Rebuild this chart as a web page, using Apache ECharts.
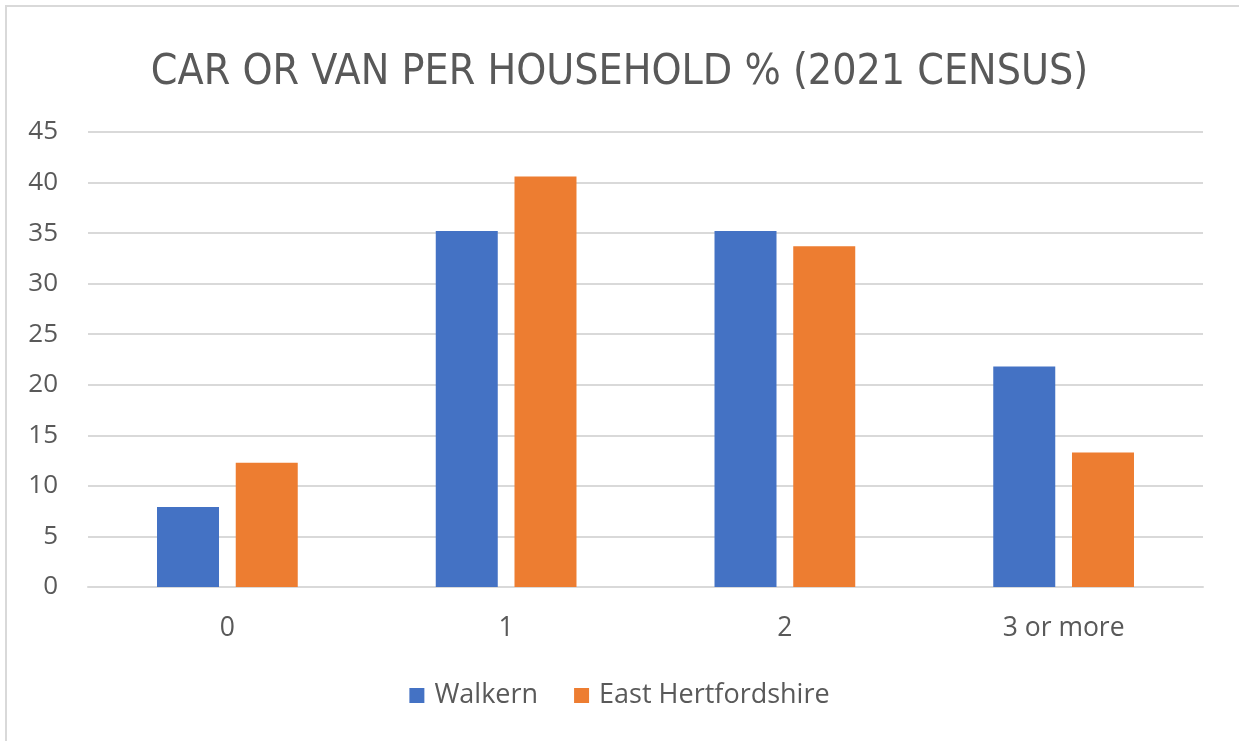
<!DOCTYPE html>
<html>
<head>
<meta charset="utf-8">
<script src="https://cdn.jsdelivr.net/npm/echarts@6/dist/echarts.min.js"></script>
<style>
html,body{margin:0;padding:0;background:#fff;}
#chart{width:1239px;height:741px;}
</style>
</head>
<body>
<div id="chart"></div>
<script>
const titleText = 'CAR OR VAN PER HOUSEHOLD % (2021 CENSUS)';
const categories = ['0', '1', '2', '3 or more'];
const seriesNames = ['Walkern', 'East Hertfordshire'];
const walkern = [7.9, 35.2, 35.2, 21.8];
const eastHerts = [12.3, 40.6, 33.7, 13.3];
const colors = ['#4472C4', '#ED7D31'];

const font = "'Open Sans', 'Noto Sans', sans-serif";
const chart = echarts.init(document.getElementById('chart'));
chart.setOption({
  animation: false,
  backgroundColor: '#ffffff',
  title: {
    text: titleText,
    left: 'center',
    top: 46,
    textStyle: {
      fontFamily: "'Liberation Sans Narrow', 'DejaVu Sans Condensed', 'Open Sans', sans-serif",
      fontSize: 42.5,
      fontWeight: 'normal',
      color: '#595959'
    }
  },
  graphic: [{
    type: 'rect',
    shape: { x: 6, y: 6, width: 1300, height: 800 },
    style: { fill: 'none', stroke: '#d9d9d9', lineWidth: 2 },
    silent: true
  }],
  legend: {
    data: seriesNames,
    bottom: 27,
    left: 'center',
    itemWidth: 15,
    itemHeight: 15,
    itemGap: 36,
    icon: 'rect',
    textStyle: { fontFamily: font, fontSize: 27, color: '#595959', padding: [0, 0, 0, 5] }
  },
  grid: { left: 88, right: 36, top: 132, bottom: 154, containLabel: false },
  xAxis: {
    type: 'category',
    data: categories,
    axisLine: { show: true, lineStyle: { color: '#d9d9d9', width: 2 } },
    axisTick: { show: false },
    axisLabel: { fontFamily: font, fontSize: 26.5, color: '#595959', margin: 28 }
  },
  yAxis: {
    type: 'value',
    min: 0,
    max: 45,
    interval: 5,
    axisLine: { show: false },
    axisTick: { show: false },
    splitLine: { lineStyle: { color: '#d9d9d9', width: 2 } },
    axisLabel: { fontFamily: font, fontSize: 26, color: '#595959', margin: 30 }
  },
  series: [
    { name: seriesNames[0], type: 'bar', data: walkern, barWidth: 62, barGap: '27%',
      itemStyle: { color: colors[0] } },
    { name: seriesNames[1], type: 'bar', data: eastHerts, barWidth: 62, barGap: '27%',
      itemStyle: { color: colors[1] } }
  ]
});
</script>
</body>
</html>
